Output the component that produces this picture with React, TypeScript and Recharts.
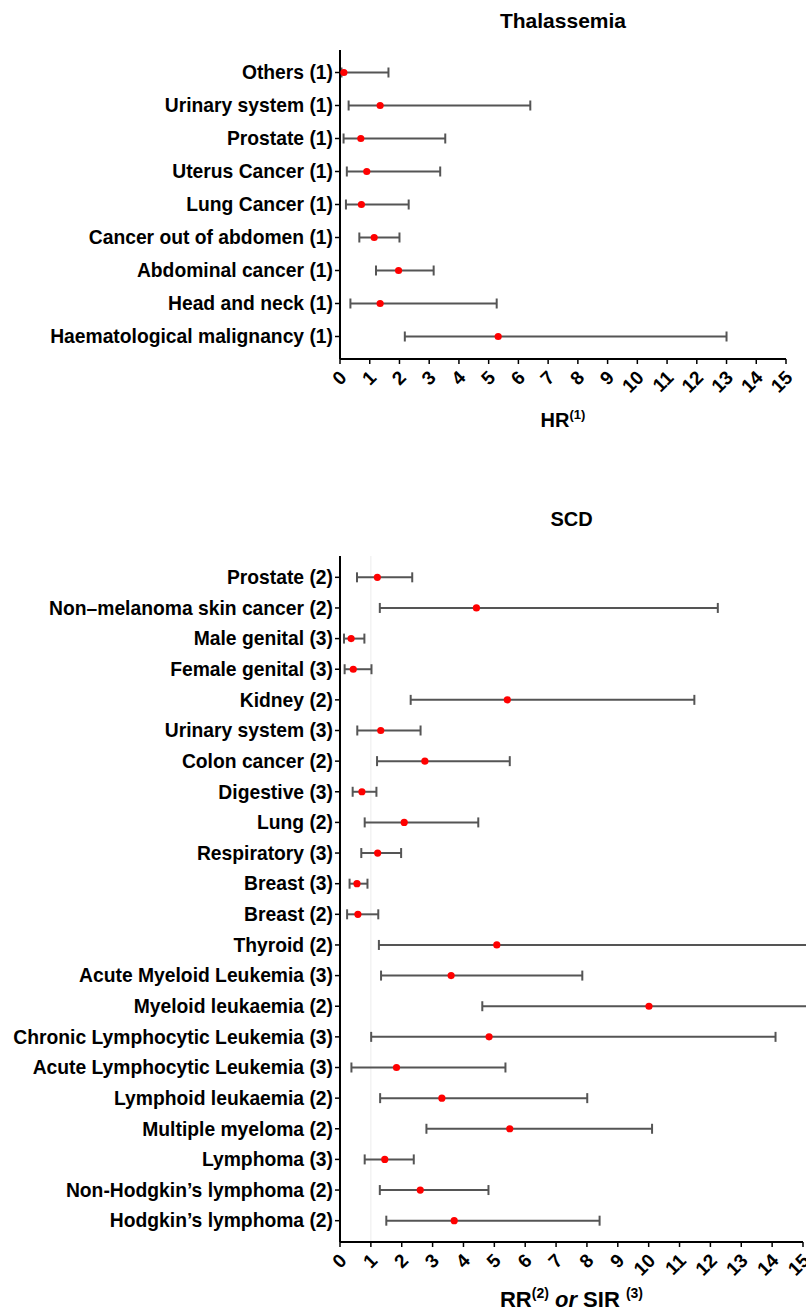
import React from "react";
import {
  ScatterChart,
  Scatter,
  XAxis,
  YAxis,
  ErrorBar,
  ReferenceLine,
} from "recharts";

const FONT = '"Liberation Sans", Arial, sans-serif';

// ---- Thalassemia (HR) ----
const thalCategories = [
  "Others (1)",
  "Urinary system (1)",
  "Prostate (1)",
  "Uterus Cancer (1)",
  "Lung Cancer (1)",
  "Cancer out of abdomen (1)",
  "Abdominal cancer (1)",
  "Head and neck (1)",
  "Haematological malignancy (1)",
];
const thalEstimate = [0.13, 1.35, 0.7, 0.9, 0.72, 1.15, 1.97, 1.35, 5.32];
const thalLow = [0.05, 0.29, 0.12, 0.23, 0.2, 0.65, 1.21, 0.35, 2.18];
const thalHigh = [1.63, 6.4, 3.54, 3.37, 2.31, 2.0, 3.15, 5.27, 13.0];

// ---- SCD (RR / SIR) ----
const scdCategories = [
  "Prostate (2)",
  "Non\u2013melanoma skin cancer (2)",
  "Male genital (3)",
  "Female genital (3)",
  "Kidney (2)",
  "Urinary system (3)",
  "Colon cancer (2)",
  "Digestive (3)",
  "Lung (2)",
  "Respiratory (3)",
  "Breast (3)",
  "Breast (2)",
  "Thyroid (2)",
  "Acute Myeloid Leukemia (3)",
  "Myeloid leukaemia (2)",
  "Chronic Lymphocytic Leukemia (3)",
  "Acute Lymphocytic Leukemia (3)",
  "Lymphoid leukaemia (2)",
  "Multiple myeloma (2)",
  "Lymphoma (3)",
  "Non-Hodgkin\u2019s lymphoma (2)",
  "Hodgkin\u2019s lymphoma (2)",
];
const scdEstimate = [
  1.21, 4.42, 0.36, 0.43, 5.42, 1.32, 2.75, 0.71, 2.08, 1.22, 0.55, 0.58, 5.08,
  3.6, 10.01, 4.83, 1.83, 3.3, 5.5, 1.45, 2.6, 3.7,
];
const scdLow = [
  0.55, 1.29, 0.13, 0.15, 2.29, 0.56, 1.2, 0.41, 0.8, 0.69, 0.31, 0.23, 1.26,
  1.33, 4.61, 1.01, 0.37, 1.3, 2.8, 0.8, 1.29, 1.5,
];
const scdHigh = [
  2.34, 12.24, 0.79, 1.02, 11.48, 2.61, 5.5, 1.18, 4.48, 1.98, 0.89, 1.24, 16,
  7.85, 16, 14.11, 5.36, 8.01, 10.11, 2.39, 4.81, 8.41,
];

const xTicks = [0, 1, 2, 3, 4, 5, 6, 7, 8, 9, 10, 11, 12, 13, 14, 15];

function buildRows(cats: string[], est: number[], low: number[], high: number[]) {
  return cats.map((name, i) => ({
    name,
    value: est[i],
    err: [est[i] - low[i], high[i] - est[i]],
  }));
}

const thalRows = buildRows(thalCategories, thalEstimate, thalLow, thalHigh);
const scdRows = buildRows(scdCategories, scdEstimate, scdLow, scdHigh);

const XTick = (props: any) => {
  const { x, y, payload } = props;
  return (
    <g transform={`translate(${x + 3},${y + 8})`}>
      <text
        x={0}
        y={0}
        dy="0.35em"
        textAnchor="end"
        transform="rotate(-45)"
        fontFamily={FONT}
        fontWeight="bold"
        fontSize={19}
        fill="#000"
      >
        {payload.value}
      </text>
    </g>
  );
};

const YTick = (props: any) => {
  const { x, y, payload } = props;
  return (
    <text
      x={x}
      y={y}
      dy="0.35em"
      textAnchor="end"
      fontFamily={FONT}
      fontWeight="bold"
      fontSize={19.3}
      fill="#000"
    >
      {payload.value}
    </text>
  );
};

const Dot = (props: any) => {
  const { cx, cy } = props;
  if (cx == null || cy == null) return null;
  return <circle cx={cx} cy={cy} r={3.6} fill="#ff0000" />;
};

const HRLabel = (props: any) => {
  const { viewBox } = props;
  const cx = viewBox.x + viewBox.width / 2;
  const y = viewBox.y + 68;
  return (
    <text x={cx} y={y} textAnchor="middle" fontFamily={FONT} fontWeight="bold" fontSize={20} fill="#000">
      HR
      <tspan fontSize={13} dy={-8}>(1)</tspan>
    </text>
  );
};

const RRLabel = (props: any) => {
  const { viewBox } = props;
  const cx = viewBox.x + viewBox.width / 2;
  const y = viewBox.y + 65;
  return (
    <text x={cx} y={y} textAnchor="middle" fontFamily={FONT} fontWeight="bold" fontSize={22} fill="#000">
      RR
      <tspan fontSize={14} dy={-9}>(2)</tspan>
      <tspan dy={9} fontStyle="italic"> or </tspan>
      <tspan>SIR </tspan>
      <tspan fontSize={14} dy={-9}>(3)</tspan>
    </text>
  );
};

export default function App() {
  return (
    <div style={{ position: "absolute", left: 0, top: 0, width: 806, height: 1315, background: "#fff" }}>
      <svg style={{ position: "absolute", left: 0, top: 0 }} width={806} height={1315}>
        <text x={563} y={28} textAnchor="middle" fontFamily={FONT} fontWeight="bold" fontSize={21} fill="#000">
          Thalassemia
        </text>
        <text x={571.5} y={526} textAnchor="middle" fontFamily={FONT} fontWeight="bold" fontSize={20} fill="#000">
          SCD
        </text>
      </svg>
      <div style={{ position: "absolute", left: 0, top: 0 }}>
        <ScatterChart width={806} height={440} margin={{ top: 50, right: 20, left: 0, bottom: 21 }}>
          <XAxis
            type="number"
            dataKey="value"
            domain={[0, 15]}
            ticks={xTicks}
            interval={0}
            allowDataOverflow
            height={60}
            tickSize={5}
            tick={<XTick />}
            axisLine={{ stroke: "#000", strokeWidth: 2 }}
            tickLine={{ stroke: "#000", strokeWidth: 1.5 }}
            label={<HRLabel />}
          />
          <YAxis
            type="category"
            dataKey="name"
            width={340}
            reversed
            padding={{ top: 6, bottom: 6 }}
            interval={0}
            tickSize={5}
            tick={<YTick />}
            axisLine={{ stroke: "#000", strokeWidth: 2 }}
            tickLine={{ stroke: "#000", strokeWidth: 1.5 }}
          />
          <Scatter data={thalRows} shape={<Dot />} isAnimationActive={false}>
            <ErrorBar dataKey="err" direction="x" width={5} stroke="#555" strokeWidth={2} isAnimationActive={false} />
          </Scatter>
        </ScatterChart>
      </div>
      <div style={{ position: "absolute", left: 0, top: 500 }}>
        <ScatterChart width={806} height={815} margin={{ top: 56, right: 3, left: 0, bottom: 13 }}>
          <XAxis
            type="number"
            dataKey="value"
            domain={[0, 15]}
            ticks={xTicks}
            interval={0}
            allowDataOverflow
            height={60}
            tickSize={5}
            tick={<XTick />}
            axisLine={{ stroke: "#000", strokeWidth: 2 }}
            tickLine={{ stroke: "#000", strokeWidth: 1.5 }}
            label={<RRLabel />}
          />
          <YAxis
            type="category"
            dataKey="name"
            width={340}
            reversed
            padding={{ top: 6, bottom: 6 }}
            interval={0}
            tickSize={5}
            tick={<YTick />}
            axisLine={{ stroke: "#000", strokeWidth: 2 }}
            tickLine={{ stroke: "#000", strokeWidth: 1.5 }}
          />
          <ReferenceLine x={1} stroke="#ececec" strokeWidth={1} />
          <Scatter data={scdRows} shape={<Dot />} isAnimationActive={false}>
            <ErrorBar dataKey="err" direction="x" width={5} stroke="#555" strokeWidth={2} isAnimationActive={false} />
          </Scatter>
        </ScatterChart>
      </div>
    </div>
  );
}
